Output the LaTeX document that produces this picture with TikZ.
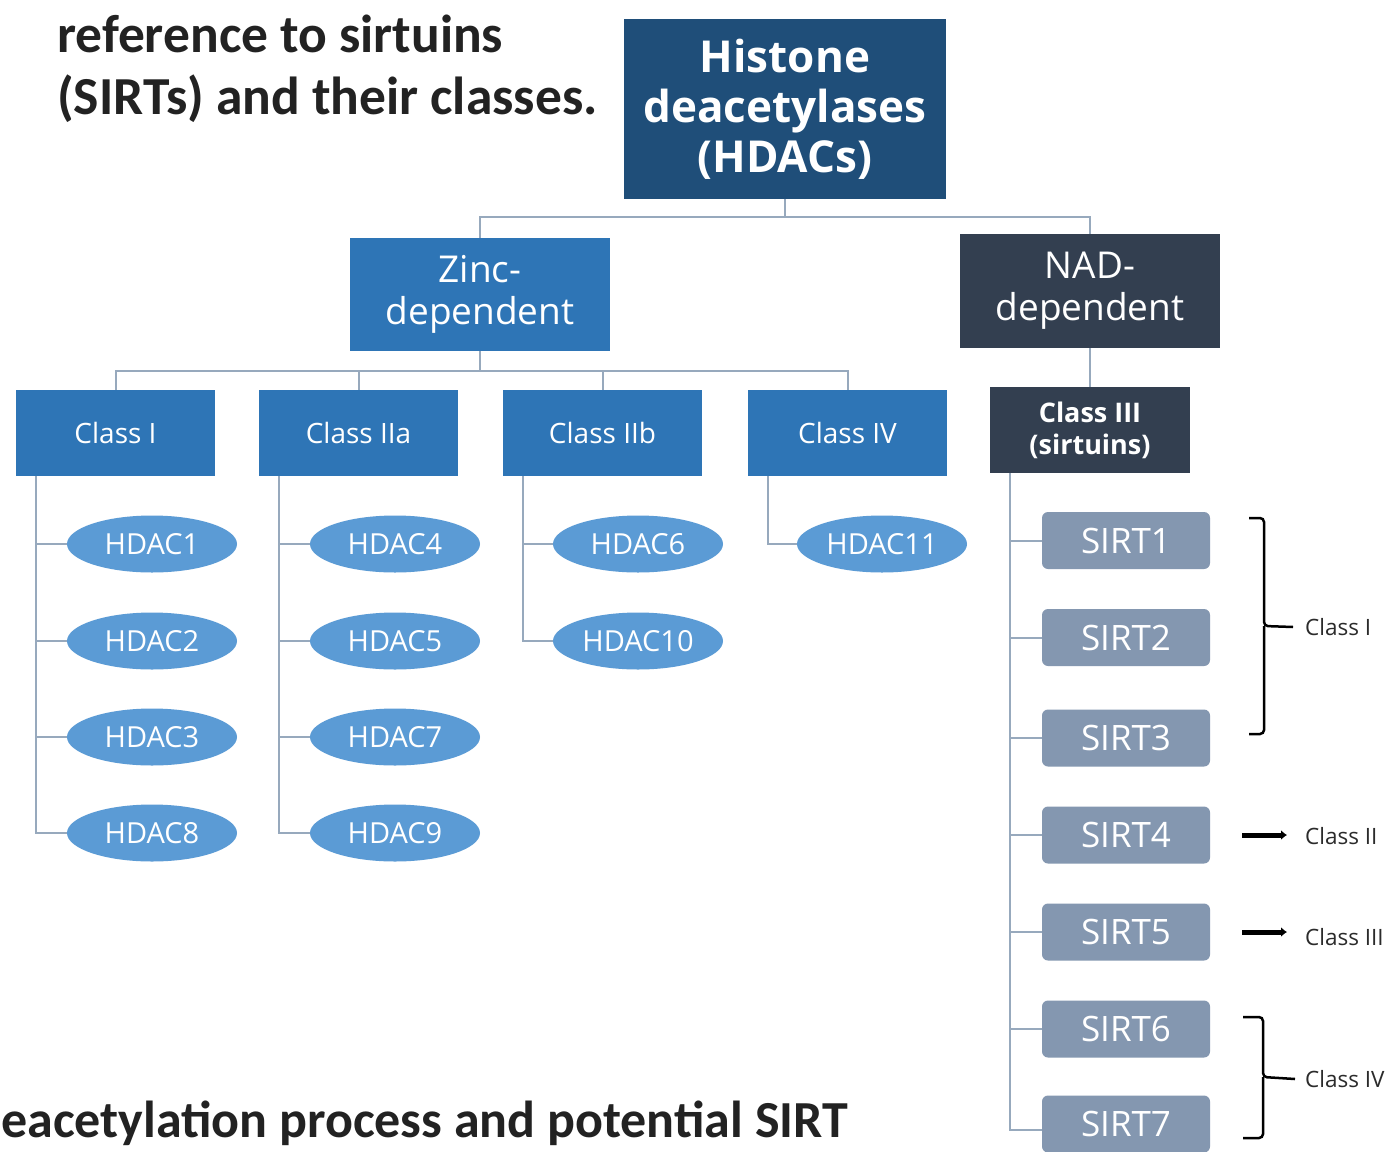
\documentclass[tikz,border=0pt]{standalone}
\usepackage{fontspec}
\setmainfont{Open Sans}
\newfontfamily\titlefont{Carlito}
\usetikzlibrary{arrows.meta,shapes.geometric}
\definecolor{hdacblue}{HTML}{1F4E79}
\definecolor{zblue}{HTML}{2E75B6}
\definecolor{nadgray}{HTML}{333F50}
\definecolor{eblue}{HTML}{5B9BD5}
\definecolor{sgray}{HTML}{8497B0}
\definecolor{lgray}{HTML}{97A9BD}
\definecolor{txtdark}{HTML}{2B2B2B}
\definecolor{ttldark}{HTML}{222222}
\begin{document}
\begin{tikzpicture}[x=1pt,y=-1pt,
  box/.style={rectangle, inner sep=0pt, align=center, text=white},
  zbox/.style={box, fill=zblue, minimum width=199pt, minimum height=86pt, font=\fontsize{28}{32}\selectfont},
  ell/.style={ellipse, fill=eblue, minimum width=170pt, minimum height=57pt, inner sep=0pt, text=white, font=\fontsize{29}{30}\selectfont},
  sirt/.style={rectangle, rounded corners=6pt, fill=sgray, minimum width=168pt, minimum height=57pt, inner sep=0pt, text=white, font=\fontsize{35}{36}\selectfont},
  conn/.style={draw=lgray, line width=2pt},
  brc/.style={draw=black, line width=2.5pt, rounded corners=4pt},
  arr/.style={draw=black, line width=5pt, -{Latex[length=6pt,width=10pt]}},
  lab/.style={anchor=west, inner sep=0pt, text=txtdark, font=\fontsize{22.5}{26}\selectfont},
  ttl/.style={inner sep=0pt, text=ttldark, font=\titlefont\bfseries\fontsize{53.5}{60}\selectfont}
]
\useasboundingbox (0,0) rectangle (1389,1151);
\fill[white] (0,0) rectangle (1389,1151);

% title texts
\node[ttl, anchor=base west] (t1) at (57,52) {reference to sirtuins};
\node[ttl, anchor=base west] (t2) at (57,114) {(SIRTs) and their classes.};
\node[ttl, anchor=base west, font=\titlefont\bfseries\fontsize{52}{60}\selectfont] (t3) at (1,1137) {eacetylation process and potential SIRT};

% top
\node[box, fill=hdacblue, minimum width=322pt, minimum height=180pt, font=\bfseries\fontsize{44}{50}\selectfont] (hdac) at (785,109) {Histone\\deacetylases\\(HDACs)};
\node[box, fill=zblue, minimum width=260pt, minimum height=113pt, font=\fontsize{37}{42}\selectfont] (zinc) at (480,294.5) {Zinc-\\dependent};
\node[box, fill=nadgray, minimum width=260pt, minimum height=114pt, font=\fontsize{37}{42}\selectfont] (nad) at (1090,291) {NAD-\\dependent};

\coordinate (hj) at (785,217);
\draw[conn] (hdac.south) -- (hj);
\draw[conn] (zinc.north) |- (hj) -| (nad.north);

% classes
\node[zbox] (c1) at (115.5,433) {Class I};
\node[zbox] (c2) at (358.5,433) {Class IIa};
\node[zbox] (c3) at (602.5,433) {Class IIb};
\node[zbox] (c4) at (847.5,433) {Class IV};
\node[box, fill=nadgray, minimum width=200pt, minimum height=86pt, font=\bfseries\fontsize{27}{32}\selectfont] (c5) at (1090,430) {Class III\\(sirtuins)};

\coordinate (zj) at (480,371);
\draw[conn] (zinc.south) -- (zj);
\draw[conn] (c1.north) |- (zj) -| (c4.north);
\draw[conn] (c2.north) -- (c2.north |- zj);
\draw[conn] (c3.north) -- (c3.north |- zj);
\draw[conn] (nad.south) -- (c5.north);

% HDAC ellipses
\node[ell] (h1) at (152,544) {HDAC1};
\node[ell] (h2) at (152,641) {HDAC2};
\node[ell] (h3) at (152,737) {HDAC3};
\node[ell] (h8) at (152,833) {HDAC8};
\node[ell] (h4) at (395,544) {HDAC4};
\node[ell] (h5) at (395,641) {HDAC5};
\node[ell] (h7) at (395,737) {HDAC7};
\node[ell] (h9) at (395,833) {HDAC9};
\node[ell] (h6) at (638,544) {HDAC6};
\node[ell] (h10) at (638,641) {HDAC10};
\node[ell] (h11) at (882,544) {HDAC11};

\coordinate (k1) at ([xshift=20pt]c1.south west);
\coordinate (k2) at ([xshift=20pt]c2.south west);
\coordinate (k3) at ([xshift=20pt]c3.south west);
\coordinate (k4) at ([xshift=20pt]c4.south west);
\coordinate (k5) at ([xshift=20pt]c5.south west);

\draw[conn] (k1) |- (h8.west);
\foreach \n in {h1,h2,h3} \draw[conn] (\n.west -| k1) -- (\n.west);
\draw[conn] (k2) |- (h9.west);
\foreach \n in {h4,h5,h7} \draw[conn] (\n.west -| k2) -- (\n.west);
\draw[conn] (k3) |- (h10.west);
\draw[conn] (h6.west -| k3) -- (h6.west);
\draw[conn] (k4) |- (h11.west);

% SIRTs
\node[sirt] (s1) at (1126,540.5) {SIRT1};
\node[sirt] (s2) at (1126,637.5) {SIRT2};
\node[sirt] (s3) at (1126,738) {SIRT3};
\node[sirt] (s4) at (1126,835) {SIRT4};
\node[sirt] (s5) at (1126,932) {SIRT5};
\node[sirt] (s6) at (1126,1029) {SIRT6};
\node[sirt] (s7) at (1126,1124) {SIRT7};

\draw[conn] (k5) |- ([yshift=-6pt]s7.west);
\foreach \n in {s1,s2,s3,s4,s5,s6} \draw[conn] (\n.west -| k5) -- (\n.west);

% side labels
\node[lab] (l1) at (1305,627) {Class I};
\node[lab] (l2) at (1305,836) {Class II};
\node[lab] (l3) at (1305,937) {Class III};
\node[lab] (l4) at (1305,1079) {Class IV};

\draw[brc] (1249,518) -| (1264,626) -- ([xshift=-12pt]l1.west);
\draw[brc] (1264,626) |- (1249,734);
\draw[brc] (1243,1017) -| (1263,1077) -- ([xshift=-10pt]l4.west);
\draw[brc] (1263,1077) |- (1243,1138);

\draw[arr] ([xshift=32pt]s4.east) -- ([xshift=-18pt]l2.west |- s4.east);
\draw[arr] ([xshift=32pt]s5.east) -- ([xshift=-18pt]l3.west |- s5.east);
\end{tikzpicture}
\end{document}
